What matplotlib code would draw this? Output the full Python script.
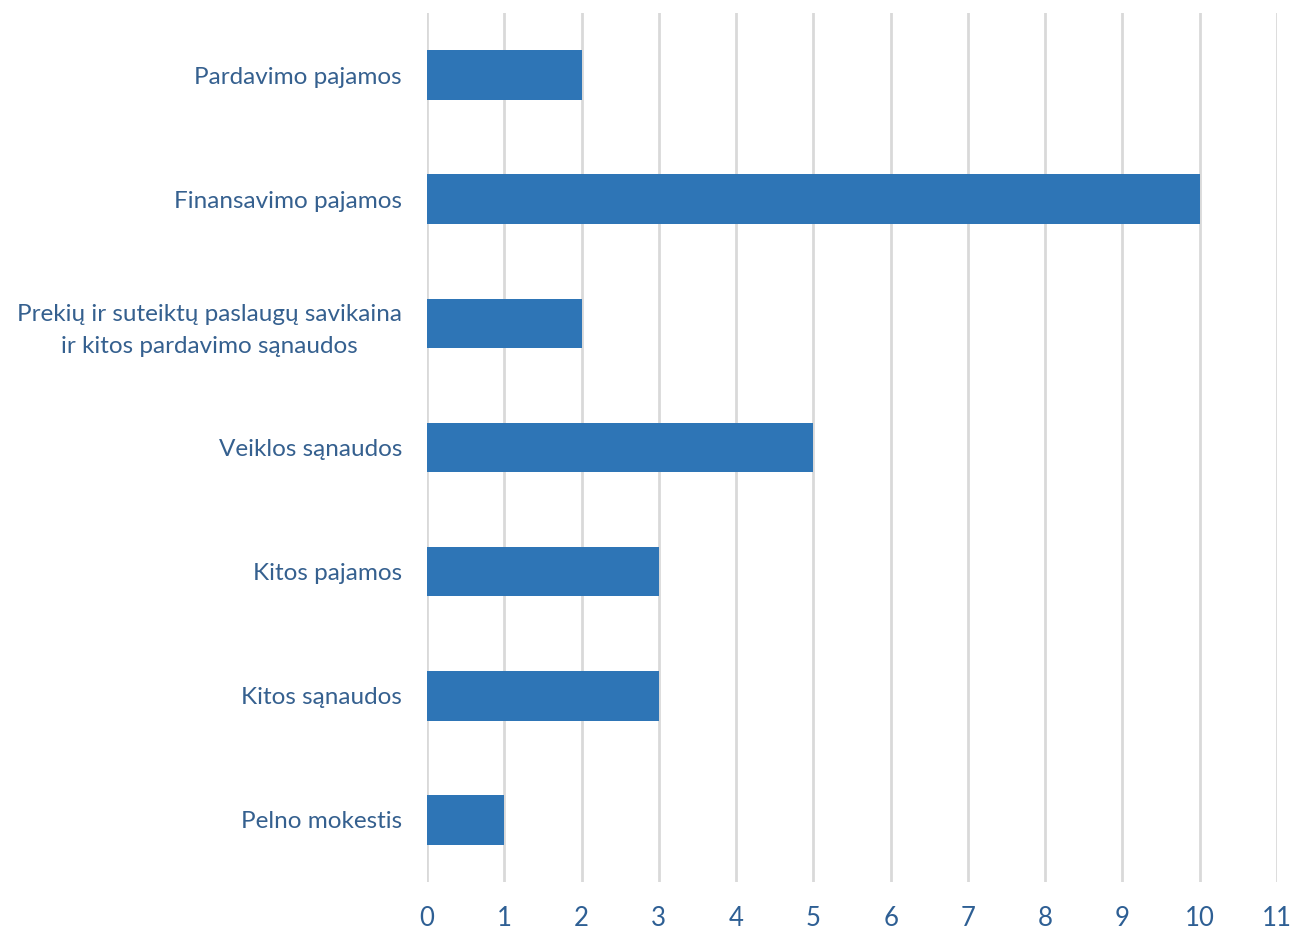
import matplotlib
matplotlib.use("Agg")
import matplotlib.pyplot as plt

# Duomenys
kategorijos = [
    "Pardavimo pajamos",
    "Finansavimo pajamos",
    "Prekių ir suteiktų paslaugų savikaina\nir kitos pardavimo sąnaudos",
    "Veiklos sąnaudos",
    "Kitos pajamos",
    "Kitos sąnaudos",
    "Pelno mokestis",
]
reiksmes = [2, 10, 2, 5, 3, 3, 1]
x_ticks = list(range(0, 12))

plt.rcParams['font.family'] = ['Lato', 'DejaVu Sans']

fig = plt.figure(figsize=(12.95, 9.32), dpi=100)
ax = fig.add_axes([427 / 1295, 1 - 882 / 932, 850 / 1295, 869 / 932])

y = list(range(len(kategorijos)))
ax.barh(y, reiksmes, height=0.4, color="#2E75B6", zorder=3)

ax.set_xlim(0, 11)
ax.set_ylim(len(kategorijos) - 0.5, -0.5)
ax.set_xticks(x_ticks)
ax.set_yticks(y)
ax.set_yticklabels(kategorijos, fontsize=17.5, color="#35608F", linespacing=1.6,
                   multialignment="center")
ax.tick_params(axis='x', length=0, pad=17, labelsize=18.5, labelcolor="#2E5F94")
ax.tick_params(axis='y', length=0, pad=18)
ax.xaxis.grid(True, color="#D9D9D9", linewidth=2, zorder=0)

for s in ax.spines.values():
    s.set_visible(False)

fig.savefig("out.png", dpi=100)
